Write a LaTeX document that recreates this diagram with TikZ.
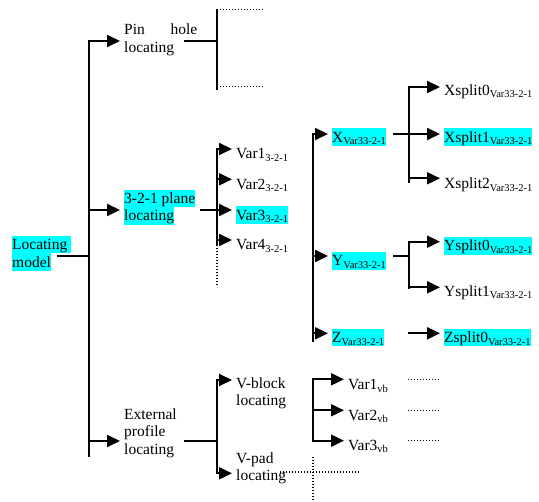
\documentclass[tikz,border=0pt]{standalone}
\usepackage{fontspec}
\setmainfont{Liberation Serif}
\usetikzlibrary{arrows.meta}
\definecolor{hlcyan}{RGB}{0,255,255}
\newcommand{\lsb}[1]{\raisebox{-2.8pt}{\fontsize{10.5}{12}\selectfont #1}}
\newcommand{\stt}{\rule[-3.7pt]{0pt}{17.5pt}}
\newcommand{\hlt}[1]{{\setlength{\fboxsep}{0pt}\colorbox{hlcyan}{\stt#1}}}
\begin{document}
\begin{tikzpicture}[x=1pt,y=1pt,
  txt/.style={inner sep=0pt, anchor=north west, align=left, font=\fontsize{15.5}{17.5}\selectfont},
  ln/.style={line width=2pt},
  arr/.style={line width=2pt, -{Triangle[length=13pt,width=12pt]}, shorten >=4pt},
  dots/.style={line width=1.5pt, dash pattern=on 1.4pt off 1.6pt}]
\useasboundingbox (0,0) rectangle (539,-502);

% nodes
\node[txt] (lm) at (12,-235.7) {\hlt{Locating\ }\\\hlt{model}};
\node[txt] (pin) at (124,-21) {\stt\makebox[73pt][s]{Pin hole}\\\stt locating};
\node[txt] (plane) at (124,-189.5) {\hlt{3-2-1 plane}\\\hlt{locating}};
\node[txt] (ext) at (124,-405.5) {\stt External\\\stt profile\\\stt locating};
\node[txt] (var1) at (236,-144.7) {\stt Var1\lsb{3-2-1}};
\node[txt] (var2) at (236,-175.2) {\stt Var2\lsb{3-2-1}};
\node[txt] (var3) at (236,-206.2) {\hlt{Var3\lsb{3-2-1}}};
\node[txt] (var4) at (236,-235.7) {\stt Var4\lsb{3-2-1}};
\node[txt] (vblock) at (236,-374.5) {\stt V-block\\\stt locating};
\node[txt] (vpad) at (236,-449.2) {\stt V-pad\\\stt locating};
\node[txt] (X) at (332,-128.2) {\hlt{X\lsb{Var33-2-1}}};
\node[txt] (Y) at (332,-251.9) {\hlt{Y\lsb{Var33-2-1}}};
\node[txt] (Z) at (332,-328.5) {\hlt{Z\lsb{Var33-2-1}}};
\node[txt] (xs0) at (444,-81.2) {\stt Xsplit0\lsb{Var33-2-1}};
\node[txt] (xs1) at (444,-128.2) {\hlt{Xsplit1\lsb{Var33-2-1}}};
\node[txt] (xs2) at (444,-174.5) {\stt Xsplit2\lsb{Var33-2-1}};
\node[txt] (ys0) at (444,-236.9) {\hlt{Ysplit0\lsb{Var33-2-1}}};
\node[txt] (ys1) at (444,-282.2) {\stt Ysplit1\lsb{Var33-2-1}};
\node[txt] (zs0) at (444,-328.5) {\hlt{Zsplit0\lsb{Var33-2-1}}};
\node[txt] (vb1) at (348,-375.5) {\stt Var1\lsb{vb}};
\node[txt] (vb2) at (348,-406.2) {\stt Var2\lsb{vb}};
\node[txt] (vb3) at (348,-436.2) {\stt Var3\lsb{vb}};

% main trunk
\coordinate (lmo) at (57,-256);
\coordinate (tM) at (89,-256);
\coordinate (tA) at (89,-41);
\coordinate (tB) at (89,-210);
\coordinate (tC) at (89,-441);
\coordinate (tE) at (89,-457);
\draw[ln] (lmo) -- (tM);
\draw[arr] (tE) -- (tA) -- (tA -| pin.west);
\draw[arr] (tB) -- (tB -| plane.west);
\draw[arr] (tC) -- (tC -| ext.west);

% pin hole
\coordinate (pS) at (184,-41);
\coordinate (pJ) at (217,-41);
\coordinate (pT) at (217,-9);
\coordinate (pB) at (217,-90);
\draw[ln] (pS) -- (pJ);
\draw[ln] (pT) -- (pB);
\coordinate (pTs) at (220,-9.7);
\coordinate (pTe) at (263,-9.7);
\coordinate (pBs) at (220,-86.5);
\coordinate (pBe) at (263,-86.5);
\draw[dots] (pTs) -- (pTe);
\draw[dots] (pBs) -- (pBe);

% 3-2-1 plane
\coordinate (plS) at (200,-210);
\coordinate (v1) at (217,-149);
\coordinate (v2) at (217,-179.3);
\coordinate (v3) at (217,-210);
\coordinate (v4) at (217,-240);
\coordinate (vE) at (217,-245);
\coordinate (vD) at (217,-287);
\draw[ln] (plS) -- (v3);
\draw[arr] (vE) -- (v1) -- (v1 -| var1.west);
\draw[arr] (v2) -- (v2 -| var2.west);
\draw[arr] (v3) -- (v3 -| var3.west);
\draw[arr] (v4) -- (v4 -| var4.west);
\draw[dots] (vE) -- (vD);

% X Y Z
\coordinate (xT) at (313,-134);
\coordinate (xB) at (313,-342);
\coordinate (yJ) at (313,-256);
\coordinate (zJ) at (313,-333.3);
\draw[arr] (xB) -- (xT) -- (xT -| X.west);
\draw[arr] (yJ) -- (yJ -| Y.west);
\draw[arr] (zJ) -- (zJ -| Z.west);

% X splits
\coordinate (xS) at (393,-134);
\coordinate (xJ) at (409,-134);
\coordinate (xs0J) at (409,-87);
\coordinate (xs2J) at (409,-178.3);
\coordinate (xsE) at (409,-183);
\draw[ln] (xS) -- (xJ);
\draw[arr] (xsE) -- (xs0J) -- (xs0J -| xs0.west);
\draw[arr] (xJ) -- (xJ -| xs1.west);
\draw[arr] (xs2J) -- (xs2J -| xs2.west);

% Y splits
\coordinate (yS) at (393,-256);
\coordinate (yJ2) at (409,-256);
\coordinate (ys0J) at (409,-241.7);
\coordinate (ys1J) at (409,-287.3);
\coordinate (ysE) at (409,-289.3);
\draw[ln] (yS) -- (yJ2);
\draw[arr] (ysE) -- (ys0J) -- (ys0J -| ys0.west);
\draw[arr] (ys1J) -- (ys1J -| ys1.west);

% Z split
\coordinate (zS) at (408,-333.3);
\draw[arr] (zS) -- (zS -| zs0.west);

% external profile
\coordinate (eS) at (184,-441);
\coordinate (eJ) at (217,-441);
\coordinate (eT) at (217,-380);
\coordinate (eB) at (217,-473.3);
\draw[ln] (eS) -- (eJ);
\draw[arr] (eJ) -- (eT) -- (eT -| vblock.west);
\draw[arr] (eJ) -- (eB) -- (eB -| vpad.west);

% V-block vars
\coordinate (bT) at (313,-379.3);
\coordinate (b2) at (313,-410.3);
\coordinate (bB) at (313,-440.7);
\draw[arr] (b2) -- (bT) -- (bT -| vb1.west);
\draw[arr] (b2) -- (b2 -| vb2.west);
\draw[arr] (b2) -- (bB) -- (bB -| vb3.west);
\coordinate (d1s) at (408,-379.3);
\coordinate (d1e) at (439,-379.3);
\coordinate (d2s) at (408,-410.3);
\coordinate (d2e) at (439,-410.3);
\coordinate (d3s) at (408,-440.7);
\coordinate (d3e) at (439,-440.7);
\draw[dots] (d1s) -- (d1e);
\draw[dots] (d2s) -- (d2e);
\draw[dots] (d3s) -- (d3e);

% V-pad dotted cross
\coordinate (hS) at (280,-472);
\coordinate (hE) at (360,-472);
\coordinate (vS2) at (313,-457);
\coordinate (vE2) at (313,-502);
\draw[dots] (hS) -- (hE);
\draw[dots] (vS2) -- (vE2);
\end{tikzpicture}
\end{document}
